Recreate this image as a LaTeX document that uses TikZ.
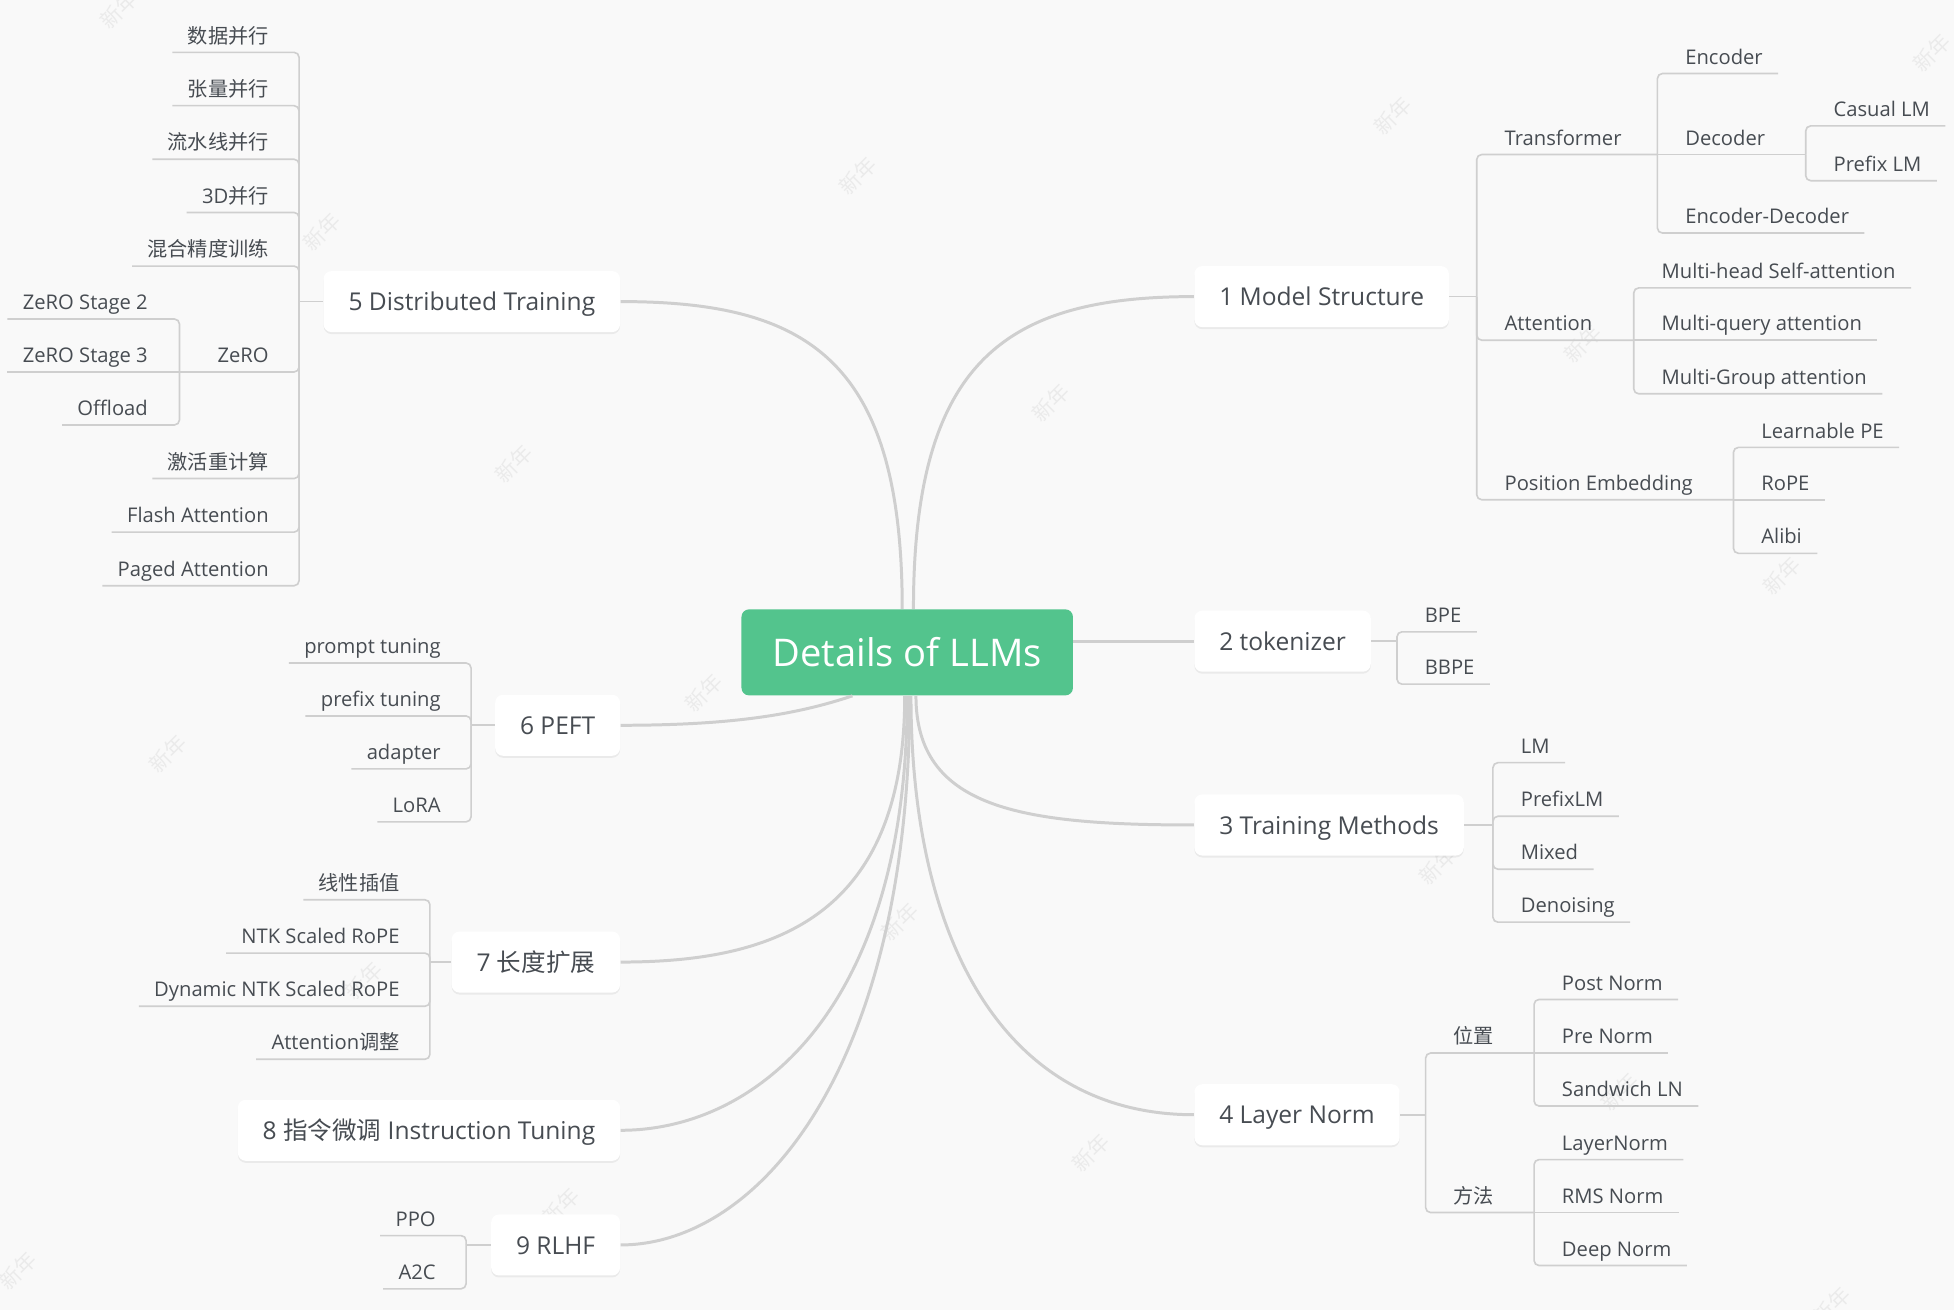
\documentclass[tikz,border=0pt]{standalone}
\usepackage{fontspec}
\setmainfont{Open Sans}
\newfontfamily\cjk{Noto Sans CJK SC}
\usetikzlibrary{calc,shadows}
\definecolor{paper}{HTML}{F9F9F9}
\definecolor{rootgreen}{HTML}{53C48D}
\definecolor{ink}{HTML}{474C52}
\definecolor{wire}{HTML}{CFCFCF}
\definecolor{stampgray}{HTML}{EBEBEB}

\begin{document}
\begin{tikzpicture}[
        %We set the scale and define some styles
        x=0.5pt, y=-0.5pt,
        root/.style={fill=rootgreen, rounded corners=3pt, text=white,
            minimum width=133pt, minimum height=34.5pt,
            text height=11.4pt, text depth=0pt,
            font=\fontsize{15.3}{18}\selectfont},
        topic/.style={fill=white, rounded corners=3.2pt, text=ink,
            minimum height=24.5pt, inner xsep=10pt,
            text height=7.3pt, text depth=0pt,
            font=\fontsize{9.85}{12}\selectfont,
            drop shadow={shadow xshift=0pt, shadow yshift=-0.8pt, fill=black, opacity=0.06}},
        leaf/.style={inner sep=0pt, text=ink, font=\fontsize{8.1}{10}\selectfont},
        rleaf/.style={leaf, anchor=base west},
        lleaf/.style={leaf, anchor=base east},
        branch/.style={draw=wire, line width=1.2pt},
        twig/.style={draw=wire, line width=0.65pt, rounded corners=2pt},
        stamp/.style={text=stampgray, rotate=45, font=\cjk\fontsize{8.5}{9}\selectfont}
]
    % paper and fixed frame
    \fill[paper] (0,0) rectangle (1568,1051);
    \useasboundingbox (0,0) rectangle (1568,1051);

    % watermark
    \foreach \wx/\wy in {95/8,258/186,412/372,688/141,843/323,1118/93,1550/42,
        1270/276,1430/462,565/556,135/605,722/740,1154/695,292/787,875/925,
        450/968,14/1020,1300/876,1470/1048}
        \node[stamp] at (\wx,\wy) {新年};

    % root and main topics
    \node[root] (root) at (728,523.5) {Details of LLMs};
    \node[topic, anchor=west] (ms) at (958,238) {1 Model Structure};
    \node[topic, anchor=west] (tk) at (958,514.5) {2 tokenizer};
    \node[topic, anchor=west] (tm) at (958,662) {3 Training Methods};
    \node[topic, anchor=west] (ln) at (958,894.5) {4 Layer Norm};
    \node[topic, anchor=east] (dt) at (498,242) {5 Distributed Training};
    \node[topic, anchor=east] (peft) at (498,582) {6 PEFT};
    \node[topic, anchor=east] (lx) at (498,772) {7 {\cjk 长度扩展}};
    \node[topic, anchor=east] (it) at (498,907) {8 {\cjk 指令微调} Instruction Tuning};
    \node[topic, anchor=east] (rl) at (498,999) {9 RLHF};

    % junctions of the elbows
    \coordinate (jms) at (1185,238);
    \coordinate (jtf) at (1330,124);
    \coordinate (jdec) at (1449,124);
    \coordinate (jat) at (1311,273);
    \coordinate (jpe) at (1391,401);
    \coordinate (jtk) at (1121,514.5);
    \coordinate (jtm) at (1198,662);
    \coordinate (jln) at (1144,894.5);
    \coordinate (jwz) at (1231,845);
    \coordinate (jff) at (1231,973);
    \coordinate (jdt) at (240,242);
    \coordinate (jzero) at (144,298.5);
    \coordinate (jpeft) at (378,582);
    \coordinate (jlx) at (345,772);
    \coordinate (jrl) at (374,999);

    % 1 Model Structure
    \node[rleaf] (tf) at (1207,116.5) {Transformer};
    \node[rleaf] (att) at (1207,265.5) {Attention};
    \node[rleaf] (pe) at (1207,393.5) {Position Embedding};
    \node[rleaf] (enc) at (1352,51.5) {Encoder};
    \node[rleaf] (dec) at (1352,116.5) {Decoder};
    \node[rleaf] (encdec) at (1352,179.5) {Encoder-Decoder};
    \node[rleaf] (clm) at (1471,93.5) {Casual LM};
    \node[rleaf] (plm) at (1471,137.5) {Prefix LM};
    \node[rleaf] (mhsa) at (1333,223.5) {Multi-head Self-attention};
    \node[rleaf] (mqa) at (1333,265.5) {Multi-query attention};
    \node[rleaf] (mga) at (1333,308.5) {Multi-Group attention};
    \node[rleaf] (lpe) at (1413,351.5) {Learnable PE};
    \node[rleaf] (rope) at (1413,393.5) {RoPE};
    \node[rleaf] (alibi) at (1413,436.5) {Alibi};
    % 2 tokenizer
    \node[rleaf] (bpe) at (1143,499.5) {BPE};
    \node[rleaf] (bbpe) at (1143,541.5) {BBPE};
    % 3 Training Methods
    \node[rleaf] (lm) at (1220,604.5) {LM};
    \node[rleaf] (plmb) at (1220,647.5) {PrefixLM};
    \node[rleaf] (mix) at (1220,690) {Mixed};
    \node[rleaf] (den) at (1220,732.5) {Denoising};
    % 4 Layer Norm
    \node[rleaf] (wz) at (1166,837.5) {\cjk 位置};
    \node[rleaf] (ff) at (1166,965.5) {\cjk 方法};
    \node[rleaf] (post) at (1253,794.5) {Post Norm};
    \node[rleaf] (pre) at (1253,837.5) {Pre Norm};
    \node[rleaf] (sand) at (1253,880) {Sandwich LN};
    \node[rleaf] (lnorm) at (1253,923) {LayerNorm};
    \node[rleaf] (rms) at (1253,965.5) {RMS Norm};
    \node[rleaf] (deep) at (1253,1008) {Deep Norm};
    % 5 Distributed Training
    \node[lleaf] (d1) at (216,34.5) {\cjk 数据并行};
    \node[lleaf] (d2) at (216,77.3) {\cjk 张量并行};
    \node[lleaf] (d3) at (216,120.3) {\cjk 流水线并行};
    \node[lleaf] (d4) at (216,163) {3D{\cjk 并行}};
    \node[lleaf] (d5) at (216,206) {\cjk 混合精度训练};
    \node[lleaf] (zero) at (216,291) {ZeRO};
    \node[lleaf] (d7) at (216,376.5) {\cjk 激活重计算};
    \node[lleaf] (d8) at (216,419.5) {Flash Attention};
    \node[lleaf] (d9) at (216,462.5) {Paged Attention};
    \node[lleaf] (z2) at (119,248.5) {ZeRO Stage 2};
    \node[lleaf] (z3) at (119,291) {ZeRO Stage 3};
    \node[lleaf] (off) at (119,333.5) {Offload};
    % 6 PEFT
    \node[lleaf] (pt) at (354,524.5) {prompt tuning};
    \node[lleaf] (pf) at (354,567) {prefix tuning};
    \node[lleaf] (ad) at (354,609.5) {adapter};
    \node[lleaf] (lora) at (354,652) {LoRA};
    % 7 length
    \node[lleaf] (l1) at (321,714.5) {\cjk 线性插值};
    \node[lleaf] (l2) at (321,757.3) {NTK Scaled RoPE};
    \node[lleaf] (l3) at (321,800) {Dynamic NTK Scaled RoPE};
    \node[lleaf] (l4) at (321,842.5) {Attention{\cjk 调整}};
    % 9 RLHF
    \node[lleaf] (ppo) at (350,984) {PPO};
    \node[lleaf] (atc) at (350,1026.7) {A2C};

    % curves from the root
    \draw[branch] (dt.east) .. controls +(150,0) and +(0,-200) .. ($(root.north)+(-4,0)$);
    \draw[branch] (ms.west) .. controls +(-150,0) and +(0,-200) .. ($(root.north)+(5,0)$);
    \draw[branch] (root.east |- tk.west) -- (tk.west);
    \draw[branch] (tm.west) .. controls +(-140,0) and +(0,90) .. ($(root.south)+(7,0)$);
    \draw[branch] (ln.west) .. controls +(-150,0) and +(0,200) .. ($(root.south)+(3,0)$);
    \draw[branch] (peft.east) .. controls +(90,0) and +(-45,15) .. ($(root.south)+(-44,0)$);
    \draw[branch] (lx.east) .. controls +(120,0) and +(0,180) .. ($(root.south)+(-2,0)$);
    \draw[branch] (it.east) .. controls +(110,0) and +(0,250) .. (root.south);
    \draw[branch] (rl.east) .. controls +(110,0) and +(0,300) .. ($(root.south)+(2,0)$);

    % elbows, right side
    \draw[twig] (ms.east) -- (jms);
    \foreach \j in {jtf,jat,jpe} \draw[twig] (jms) |- (\j);
    \foreach \c in {enc,encdec} \draw[twig] (jtf) |- ($(\c.base east)+(12,7.5)$);
    \draw[twig] (jtf) -- (jdec);
    \foreach \c in {clm,plm} \draw[twig] (jdec) |- ($(\c.base east)+(12,7.5)$);
    \foreach \c in {mhsa,mga} \draw[twig] (jat) |- ($(\c.base east)+(12,7.5)$);
    \draw[twig] (jat) -- ($(mqa.base east)+(12,7.5)$);
    \foreach \c in {lpe,alibi} \draw[twig] (jpe) |- ($(\c.base east)+(12,7.5)$);
    \draw[twig] (jpe) -- ($(rope.base east)+(12,7.5)$);
    \draw[twig] (tk.east) -- (jtk);
    \foreach \c in {bpe,bbpe} \draw[twig] (jtk) |- ($(\c.base east)+(12,7.5)$);
    \draw[twig] (tm.east) -- (jtm);
    \foreach \c in {lm,plmb,mix,den} \draw[twig] (jtm) |- ($(\c.base east)+(12,7.5)$);
    \draw[twig] (ln.east) -- (jln);
    \foreach \j in {jwz,jff} \draw[twig] (jln) |- (\j);
    \foreach \c in {post,sand} \draw[twig] (jwz) |- ($(\c.base east)+(12,7.5)$);
    \draw[twig] (jwz) -- ($(pre.base east)+(12,7.5)$);
    \foreach \c in {lnorm,deep} \draw[twig] (jff) |- ($(\c.base east)+(12,7.5)$);
    \draw[twig] (jff) -- ($(rms.base east)+(12,7.5)$);

    % elbows, left side
    \draw[twig] (dt.west) -- (jdt);
    \foreach \c in {d1,d2,d3,d4,d5,d7,d8,d9} \draw[twig] (jdt) |- ($(\c.base west)+(-12,7.5)$);
    \draw[twig] (jdt) |- (jzero);
    \foreach \c in {z2,off} \draw[twig] (jzero) |- ($(\c.base west)+(-12,7.5)$);
    \draw[twig] (jzero) -- ($(z3.base west)+(-12,7.5)$);
    \draw[twig] (peft.west) -- (jpeft);
    \foreach \c in {pt,pf,ad,lora} \draw[twig] (jpeft) |- ($(\c.base west)+(-12,7.5)$);
    \draw[twig] (lx.west) -- (jlx);
    \foreach \c in {l1,l2,l3,l4} \draw[twig] (jlx) |- ($(\c.base west)+(-12,7.5)$);
    \draw[twig] (rl.west) -- (jrl);
    \foreach \c in {ppo,atc} \draw[twig] (jrl) |- ($(\c.base west)+(-12,7.5)$);
\end{tikzpicture}
\end{document}
